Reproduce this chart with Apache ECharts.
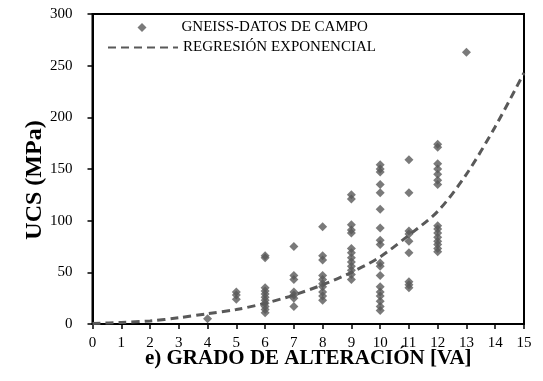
<!DOCTYPE html>
<html>
<head>
<meta charset="utf-8">
<script src="https://cdn.jsdelivr.net/npm/echarts@6/dist/echarts.min.js"></script>
<style>
  html, body { margin: 0; padding: 0; background: #fff; }
  #chart { width: 543px; height: 381px; }
</style>
</head>
<body>
<div id="chart"></div>
<script>
// grado de alteracion (VA) and the UCS values measured at each grade
const gradoVA = [4, 5, 6, 7, 8, 9, 10, 11, 12, 13];
const ucsPorGrado = [
  [5],
  [24, 28, 31],
  [66, 64, 35, 32, 29, 26, 23, 20, 17, 14, 11],
  [75, 47, 43, 31, 28, 25, 17],
  [94, 66, 62, 47, 43, 39, 36, 31, 27, 23],
  [125, 121, 96, 91, 88, 73, 69, 64, 60, 56, 52, 48, 43],
  [154, 150, 147, 135, 127, 111, 93, 81, 77, 59, 56, 47, 36, 31, 27, 22, 17, 13],
  [159, 127, 90, 87, 80, 69, 41, 38, 35],
  [174, 171, 155, 150, 145, 139, 135, 95, 92, 88, 84, 80, 77, 73, 70],
  [263]
];

// regression curve
const curvaX = [0, 1, 2, 3, 4, 5, 6, 7, 8, 9, 10, 11, 12, 13, 14, 15];
const curvaY = [0.5, 1.5, 3, 6, 10, 14, 20, 28, 38, 50, 65, 86, 109, 145, 191, 243];

const serieCampo = "GNEISS-DATOS DE CAMPO";
const serieRegresion = "REGRESIÓN EXPONENCIAL";

const puntos = [];
gradoVA.forEach((va, i) => {
  ucsPorGrado[i].forEach((ucs) => puntos.push([va, ucs]));
});
const curva = curvaX.map((x, i) => [x, curvaY[i]]);

const gris = "#595959";
const fuente = "'Liberation Serif', 'Times New Roman', serif";
const leyendaTexto = { fontFamily: fuente, fontSize: 15, color: "#000" };

const chart = echarts.init(document.getElementById("chart"));
chart.setOption({
  animation: false,
  textStyle: { fontFamily: fuente },
  grid: {
    left: 92.5,
    right: 19,
    top: 14,
    bottom: 57,
    show: true,
    borderColor: "#000",
    borderWidth: 2
  },
  legend: [
    {
      left: 132.5,
      top: 15,
      itemWidth: 9,
      itemHeight: 9,
      textStyle: Object.assign({ padding: [0, 0, 0, 30] }, leyendaTexto),
      data: [{ name: serieCampo, icon: "diamond" }]
    },
    {
      left: 102,
      top: 35,
      itemWidth: 70,
      itemHeight: 9,
      textStyle: leyendaTexto,
      data: [{ name: serieRegresion, itemStyle: { opacity: 0 } }]
    }
  ],
  xAxis: {
    type: "value",
    min: 0,
    max: 15,
    interval: 1,
    name: "e) GRADO DE ALTERACIÓN [VA]",
    nameLocation: "middle",
    nameGap: 24,
    nameMoveOverlap: false,
    nameTextStyle: { fontFamily: fuente, fontSize: 21, fontWeight: "bold", color: "#000" },
    splitLine: { show: false },
    axisLine: { lineStyle: { color: "#000", width: 2 } },
    axisTick: { length: 5, lineStyle: { color: "#000", width: 1.5 } },
    axisLabel: { margin: 12, fontSize: 15, color: "#000", fontFamily: fuente }
  },
  yAxis: {
    type: "value",
    min: 0,
    max: 300,
    interval: 50,
    name: "UCS (MPa)",
    nameLocation: "middle",
    nameGap: 46,
    nameMoveOverlap: false,
    nameTextStyle: {
      fontFamily: fuente,
      fontSize: 24,
      fontWeight: "bold",
      color: "#000",
      padding: [0, 22, 0, 0]
    },
    splitLine: { show: false },
    axisLine: { show: true, lineStyle: { color: "#000", width: 2 } },
    axisTick: { show: true, length: 5, lineStyle: { color: "#000", width: 1.5 } },
    axisLabel: { margin: 20, fontSize: 15, color: "#000", fontFamily: fuente }
  },
  series: [
    {
      name: serieCampo,
      type: "scatter",
      symbol: "diamond",
      symbolSize: 9,
      itemStyle: { color: gris },
      data: puntos
    },
    {
      name: serieRegresion,
      type: "line",
      smooth: 0.3,
      symbol: "none",
      lineStyle: { color: gris, width: 3, type: [8, 5] },
      itemStyle: { color: gris },
      data: curva
    }
  ]
});
</script>
</body>
</html>
